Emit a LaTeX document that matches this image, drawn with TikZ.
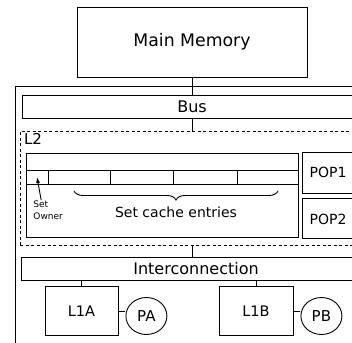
\documentclass[tikz,border=0pt]{standalone}
\usepackage{fontspec}
\setmainfont{DejaVu Sans}
\usetikzlibrary{positioning}
\usetikzlibrary{arrows.meta}
\usetikzlibrary{shapes.geometric}
\usetikzlibrary{decorations.pathreplacing}
\tikzset{tips=proper}
\tikzset{%
    unit/.style={rectangle, draw, inner sep=0pt},
    proc/.style={ellipse, draw, inner sep=0pt, minimum width=41pt, minimum height=37pt, font=\fontsize{15}{18}\selectfont},
    arrow/.style={draw, {-Latex[length=6pt, width=4pt]}}
}

\begin{document}
\begin{tikzpicture}[x=1pt, y=-1pt, line width=0.9pt, font=\fontsize{16}{19}\selectfont]
    \useasboundingbox (0,0) rectangle (352,342);
    \clip (0,0) rectangle (352,342);
    \node[unit, minimum width=230pt, minimum height=70pt, font=\fontsize{17.3}{20}\selectfont] (mem) at (192,42) {Main Memory};
    \draw (15,86) rectangle (370,360);
    \node[unit, minimum width=340pt, minimum height=23pt] (bus) at (192,106.5) {Bus};
    % second level
    \node[unit, dash pattern=on 3pt off 2.5pt, minimum width=344pt, minimum height=114pt] (l2) at (192,188) {};
    \node[anchor=north west, inner sep=2pt, xshift=2pt, font=\fontsize{15}{18}\selectfont] (l2name) at (l2.north west) {L2};
    \node[unit, minimum width=272pt, minimum height=84pt] (cache) at (162,195) {};
    \draw (cache.west |- 0,170) -- (cache.east |- 0,170);
    \draw (cache.west |- 0,184) -- (cache.east |- 0,184);
    \foreach \x in {48,110,173,237}
        \draw (\x,170) -- (\x,184);
    \node[unit, minimum width=52pt, minimum height=41pt, font=\fontsize{14}{17}\selectfont] (pop1) at (328,172.5) {POP1};
    \node[unit, minimum width=52pt, minimum height=40pt, font=\fontsize{14}{17}\selectfont, below=5pt of pop1] (pop2) {POP2};
    \node[align=left, inner sep=0pt, anchor=north west, font=\fontsize{9}{12.3}\selectfont] (owner) at (33,200) {Set\\Owner};
    \coordinate (slot) at (37,177);
    \draw[arrow] ([xshift=-7pt]owner.north) -- (slot);
    \draw[decorate, decoration={brace, amplitude=9pt, mirror}] (74,191) -- (278,191);
    \node[font=\fontsize{14}{17}\selectfont] (entries) at (176,212) {Set cache entries};
    % first level
    \node[unit, minimum width=350pt, minimum height=23pt] (inter) at (196,268.5) {Interconnection};
    \node[unit, minimum width=73pt, minimum height=49pt, font=\fontsize{14.5}{17}\selectfont] (l1a) at (81.5,311) {L1A};
    \node[proc, right=7pt of l1a, yshift=-5pt] (pa) {PA};
    \node[unit, minimum width=74pt, minimum height=49pt, font=\fontsize{14.5}{17}\selectfont] (l1b) at (256,311) {L1B};
    \node[proc, right=7pt of l1b, yshift=-5pt] (pb) {PB};
    % links
    \draw (mem) -- (bus);
    \draw (bus) -- (l2);
    \draw (l2.south) -- (l2.south |- inter.north);
    \draw (l1a.north |- inter.south) -- (l1a);
    \draw (l1b.north |- inter.south) -- (l1b);
    \draw (l1a.east) -- (l1a.east -| pa.west);
    \draw (l1b.east) -- (l1b.east -| pb.west);
\end{tikzpicture}
\end{document}
